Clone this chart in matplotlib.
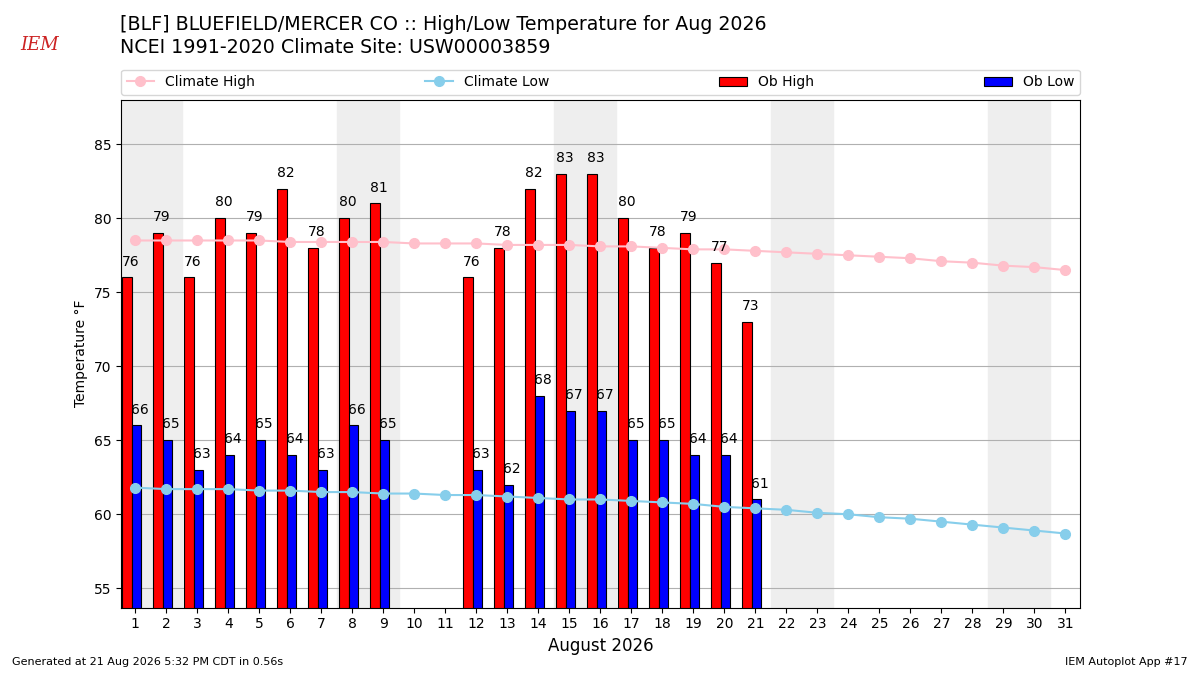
import numpy as np
import matplotlib.pyplot as plt

days = np.arange(1, 32)
clim_high = [78.5, 78.5, 78.5, 78.5, 78.5, 78.4, 78.4, 78.4, 78.4, 78.3, 78.3,
             78.3, 78.2, 78.2, 78.2, 78.1, 78.1, 78.0, 77.9, 77.9, 77.8, 77.7,
             77.6, 77.5, 77.4, 77.3, 77.1, 77.0, 76.8, 76.7, 76.5]
clim_low = [61.8, 61.7, 61.7, 61.7, 61.6, 61.6, 61.5, 61.5, 61.4, 61.4, 61.3,
            61.3, 61.2, 61.1, 61.0, 61.0, 60.9, 60.8, 60.7, 60.5, 60.4, 60.3,
            60.1, 60.0, 59.8, 59.7, 59.5, 59.3, 59.1, 58.9, 58.7]
ob_days = [1, 2, 3, 4, 5, 6, 7, 8, 9, 12, 13, 14, 15, 16, 17, 18, 19, 20, 21]
ob_high = [76, 79, 76, 80, 79, 82, 78, 80, 81, 76, 78, 82, 83, 83, 80, 78, 79, 77, 73]
ob_low = [66, 65, 63, 64, 65, 64, 63, 66, 65, 63, 62, 68, 67, 67, 65, 65, 64, 64, 61]
weekends = [1, 8, 15, 22, 29]

fig = plt.figure(figsize=(12, 6.75), dpi=100)
ax = fig.add_axes([0.1008, 0.1, 0.7992, 0.752])

# weekend shading
for d in weekends:
    ax.axvspan(d - 0.5, d + 1.5, color='#eeeeee', zorder=0)

obx = np.array(ob_days)
ax.bar(obx - 0.42, ob_high, width=0.3, align='edge', color='red',
       edgecolor='k', linewidth=0.8, label='Ob High', zorder=2)
ax.bar(obx - 0.12, ob_low, width=0.3, align='edge', color='blue',
       edgecolor='k', linewidth=0.8, label='Ob Low', zorder=2)
for x, h, l in zip(obx, ob_high, ob_low):
    ax.text(x - 0.15, h + 0.6, str(h), ha='center', va='bottom', fontsize=10, zorder=4)
    ax.text(x + 0.15, l + 0.6, str(l), ha='center', va='bottom', fontsize=10, zorder=4)

ax.plot(days, clim_high, color='pink', marker='o', markersize=7, lw=1.5,
        label='Climate High', zorder=3)
ax.plot(days, clim_low, color='skyblue', marker='o', markersize=7, lw=1.5,
        label='Climate Low', zorder=3)

ax.set_xlim(0.54, 31.47)
ax.set_ylim(53.7, 88)
ax.set_xticks(days)
ax.set_yticks(range(55, 90, 5))
ax.tick_params(labelsize=10)
ax.grid(True, axis='y', color='#b0b0b0', linewidth=0.8)
ax.set_axisbelow(True)
ax.set_ylabel('Temperature °F', fontsize=10)
ax.set_xlabel('August 2026', fontsize=12)

h, lab = ax.get_legend_handles_labels()
order = [lab.index(n) for n in ['Climate High', 'Climate Low', 'Ob High', 'Ob Low']]
ax.legend([h[i] for i in order], [lab[i] for i in order], ncol=4,
          mode='expand', loc='lower left', bbox_to_anchor=(0, 1.01, 1, 0.05),
          fontsize=10, borderaxespad=0)

fig.text(0.1, 0.964, '[BLF] BLUEFIELD/MERCER CO :: High/Low Temperature for Aug 2026',
         fontsize=13.7, va='center')
fig.text(0.1, 0.929, 'NCEI 1991-2020 Climate Site: USW00003859', fontsize=13.7, va='center')
fig.text(0.017, 0.933, 'IEM', fontsize=13, color='#cc2222', family='serif',
         style='italic', va='center')
fig.text(0.01, 0.015, 'Generated at 21 Aug 2026 5:32 PM CDT in 0.56s', fontsize=8)
fig.text(0.99, 0.015, 'IEM Autoplot App #17', fontsize=8, ha='right')

fig.savefig('out.png', dpi=100)
